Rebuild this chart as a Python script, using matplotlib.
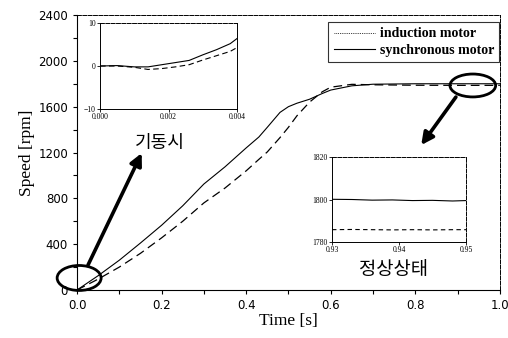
import matplotlib
matplotlib.use("Agg")
import matplotlib.pyplot as plt
from matplotlib.patches import Ellipse
from matplotlib.lines import Line2D

# main response (time in s, speed in rpm)
t_main = [0, 0.05, 0.1, 0.15, 0.2, 0.25, 0.3, 0.35, 0.4, 0.43, 0.45, 0.48, 0.5, 0.52,
          0.55, 0.58, 0.6, 0.65, 0.7, 0.8, 0.9, 1.0]
sync_main = [0, 125, 260, 410, 565, 735, 925, 1075, 1240, 1335, 1420, 1550, 1600, 1630,
             1665, 1715, 1745, 1782, 1796, 1800, 1800, 1800]
ind_main = [0, 95, 200, 320, 455, 600, 760, 890, 1040, 1140, 1205, 1330, 1420, 1520,
            1640, 1730, 1770, 1795, 1791, 1787, 1786, 1786]

# start-up zoom
t_start = [0, 0.0005, 0.001, 0.0014, 0.0018, 0.0022, 0.0026, 0.003, 0.0034, 0.0038, 0.004]
sync_start = [0, 0.1, -0.2, -0.2, 0.3, 0.8, 1.3, 2.6, 3.8, 5.2, 6.4]
ind_start = [0, 0.0, -0.3, -0.8, -0.6, -0.2, 0.3, 1.4, 2.4, 3.4, 4.3]

# steady-state zoom
t_ss = [0.93, 0.933, 0.936, 0.939, 0.942, 0.945, 0.948, 0.95]
sync_ss = [1800.1, 1800.0, 1799.7, 1799.8, 1799.5, 1799.6, 1799.3, 1799.5]
ind_ss = [1785.8, 1785.9, 1785.8, 1785.7, 1785.8, 1785.7, 1785.8, 1785.8]

serif = ["Liberation Serif", "DejaVu Serif"]
korean = ["Noto Sans CJK KR", "DejaVu Sans"]
dash = (0, (7, 4))

fig = plt.figure(figsize=(5.08, 3.38), dpi=100)
ax = fig.add_axes([0.1516, 0.142, 0.8324, 0.8136])

ax.plot(t_main, sync_main, color="black", lw=0.8)
ax.plot(t_main, ind_main, color="black", lw=0.9, linestyle=dash)
ax.set_xlim(0, 1.0)
ax.set_ylim(0, 2400)
ax.set_xticks([0.0, 0.2, 0.4, 0.6, 0.8, 1.0])
ax.set_xticks([0.1, 0.3, 0.5, 0.7, 0.9], minor=True)
ax.set_yticks([0, 400, 800, 1200, 1600, 2000, 2400])
ax.set_yticks([200, 600, 1000, 1400, 1800, 2200], minor=True)
ax.tick_params(which="both", direction="out", length=3, width=0.8, labelsize=8.5)
ax.set_xticklabels(["0.0", "0.2", "0.4", "0.6", "0.8", "1.0"])
ax.set_xlabel("Time [s]", family=serif, fontsize=12.5, labelpad=1)
ax.set_ylabel("Speed [rpm]", family=serif, fontsize=12.5, labelpad=2)
for s in ["top", "right"]:
    ax.spines[s].set_linestyle((0, (4, 1.5)))
    ax.spines[s].set_linewidth(0.7)

handles = [Line2D([], [], color="black", lw=0.6, linestyle=(0, (1, 1.2))),
           Line2D([], [], color="black", lw=0.8)]
leg = ax.legend(handles, ["induction motor", "synchronous motor"],
                loc="upper right", bbox_to_anchor=(0.999, 0.975),
                prop={"family": serif, "size": 10, "weight": "bold"},
                frameon=True, fancybox=False, edgecolor="black",
                handlelength=3.0, handletextpad=0.3, borderpad=0.4,
                labelspacing=0.25, borderaxespad=0)
leg.get_frame().set_linewidth(0.8)

# circles around the zoomed regions
ax.add_patch(Ellipse((0.005, 105), 0.104, 218, fill=False, lw=2, color="black", clip_on=False))
ax.add_patch(Ellipse((0.936, 1785), 0.108, 200, fill=False, lw=2, color="black", clip_on=False))

arrow = dict(arrowstyle="-|>", lw=2.6, color="black", mutation_scale=18, shrinkA=0, shrinkB=0)
ax.annotate("", xy=(0.153, 1195), xytext=(0.026, 218), arrowprops=arrow)
ax.annotate("", xy=(0.814, 1265), xytext=(0.896, 1684), arrowprops=arrow)

fig.text(160 / 508, 1 - 143 / 338, "기동시", family=korean, fontsize=13,
         ha="center", va="center")
fig.text(393 / 508, 1 - 270 / 338, "정상상태", family=korean, fontsize=13.5,
         ha="center", va="center")

# start-up inset
ax1 = fig.add_axes([0.197, 0.6775, 0.2697, 0.2544])
ax1.plot(t_start, sync_start, color="black", lw=0.8)
ax1.plot(t_start, ind_start, color="black", lw=0.8, linestyle=(0, (5, 3)))
ax1.set_xlim(0, 0.004)
ax1.set_ylim(-10, 10)
ax1.set_xticks([0.0, 0.002, 0.004])
ax1.set_xticklabels(["0.000", "0.002", "0.004"])
ax1.set_yticks([-10, 0, 10])
ax1.tick_params(direction="out", length=2, width=0.6, labelsize=5.5, pad=1)
for lab in ax1.get_xticklabels() + ax1.get_yticklabels():
    lab.set_family(serif)

# steady-state inset
ax2 = fig.add_axes([0.6535, 0.284, 0.2638, 0.2515])
ax2.plot(t_ss, sync_ss, color="black", lw=0.8)
ax2.plot(t_ss, ind_ss, color="black", lw=0.8, linestyle=(0, (4, 3)))
ax2.set_xlim(0.93, 0.95)
ax2.set_ylim(1780, 1820)
ax2.set_xticks([0.93, 0.94, 0.95])
ax2.set_xticklabels(["0.93", "0.94", "0.95"])
ax2.set_yticks([1780, 1800, 1820])
ax2.tick_params(direction="out", length=2, width=0.6, labelsize=5.5, pad=1)
for lab in ax2.get_xticklabels() + ax2.get_yticklabels():
    lab.set_family(serif)

for a in (ax1, ax2):
    for s in a.spines.values():
        s.set_linewidth(0.7)
    a.spines["top"].set_linestyle((0, (4, 1.5)))
ax2.spines["right"].set_linestyle((0, (4, 1.5)))

fig.savefig("out.png", dpi=100)
